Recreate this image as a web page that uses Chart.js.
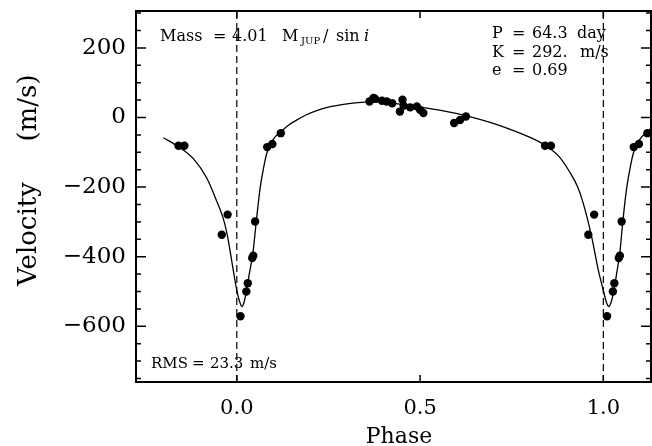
<!DOCTYPE html>
<html>
<head>
<meta charset="utf-8">
<script src="https://cdn.jsdelivr.net/npm/chart.js@4/dist/chart.umd.min.js"></script>
<style>
  html, body { margin: 0; padding: 0; background: #fff; }
  canvas { display: block; }
</style>
</head>
<body>
<canvas id="chart" width="652" height="446"></canvas>
<script>
'use strict';

// observed velocities, folded on phase 0..1
const obsPhase = [0.010, 0.026, 0.030, 0.042, 0.045, 0.050, 0.083, 0.097, 0.120,
    0.362, 0.373, 0.377, 0.396, 0.409, 0.424, 0.445, 0.452, 0.455, 0.473, 0.491, 0.500, 0.509,
    0.593, 0.609, 0.625, 0.841, 0.857, 0.959, 0.975];
const obsVel = [-571, -500, -476, -404, -397, -299, -85, -76, -45,
    46, 56, 54, 48, 46, 41, 17, 51, 34, 29, 32, 22, 13,
    -16, -7, 3, -81, -81, -337, -279];

// fitted orbit
const curvePhase = [-0.200, -0.159, -0.118, -0.082, -0.055, -0.037, -0.026, -0.011, 0.000, 0.008,
    0.014, 0.020, 0.027, 0.034, 0.044, 0.053, 0.064, 0.073, 0.082, 0.100, 0.120, 0.141, 0.164,
    0.190, 0.218, 0.250, 0.291, 0.330, 0.364, 0.420, 0.500, 0.560, 0.627, 0.691, 0.746, 0.800,
    0.846, 0.880, 0.909, 0.930, 0.945, 0.968, 0.986, 1.000, 1.008, 1.015, 1.022, 1.029, 1.036,
    1.045, 1.053, 1.064, 1.073, 1.082, 1.100, 1.120, 1.135];
const curveVel = [-58, -84, -119, -174, -240, -290, -337, -430, -497, -530,
    -543, -530, -495, -450, -389, -300, -200, -145, -102, -62, -41, -22, -7,
    8, 20, 30, 38, 43, 45, 41, 30, 20, 5, -14, -34, -57,
    -83, -113, -158, -200, -246, -342, -437, -497, -530, -543, -528, -495, -450,
    -389, -300, -200, -145, -102, -62, -41, -26];

const xRange = [-0.275, 1.13];
const yRange = [-760, 306];
const xTickStep = 0.5;
const yTickStep = 50;
const yMajorStep = 200;
const markerPhases = [0, 1];

const SERIF = '"DejaVu Serif", "Liberation Serif", serif';

// repeat the folded data one cycle either side, keep what falls in range
const obsPoints = [];
[-1, 0, 1].forEach(shift => {
    obsPhase.forEach((p, i) => {
        const x = p + shift;
        if (x >= xRange[0] && x <= xRange[1]) obsPoints.push({ x: x, y: obsVel[i] });
    });
});
const curvePoints = curvePhase.map((p, i) => ({ x: p, y: curveVel[i] }));

const markerSets = markerPhases.map(p => ({
    data: [{ x: p, y: yRange[0] }, { x: p, y: yRange[1] }],
    showLine: true,
    borderColor: '#000',
    borderWidth: 1.2,
    borderDash: [7, 4],
    pointRadius: 0
}));

function drawTokens(ctx, tokens, y, font) {
    tokens.forEach(t => {
        ctx.font = t[2] || font;
        ctx.fillText(t[0], t[1], t[3] || y);
    });
}

const framePlugin = {
    id: 'frame',
    afterDraw(chart) {
        const ctx = chart.ctx;
        const a = chart.chartArea;
        const xs = chart.scales.x, ys = chart.scales.y;
        ctx.save();
        ctx.strokeStyle = '#000';
        ctx.fillStyle = '#000';
        ctx.lineWidth = 2;
        ctx.strokeRect(a.left, a.top, a.right - a.left, a.bottom - a.top);

        // inward ticks
        ctx.lineWidth = 1.5;
        ctx.beginPath();
        ys.ticks.forEach(t => {
            const py = ys.getPixelForValue(t.value);
            const len = t.value % yMajorStep === 0 ? 10 : 5;
            ctx.moveTo(a.left, py); ctx.lineTo(a.left + len, py);
            ctx.moveTo(a.right, py); ctx.lineTo(a.right - len, py);
        });
        xs.ticks.forEach(t => {
            const px = xs.getPixelForValue(t.value);
            ctx.moveTo(px, a.bottom); ctx.lineTo(px, a.bottom - 7);
            ctx.moveTo(px, a.top); ctx.lineTo(px, a.top + 7);
        });
        ctx.stroke();

        // axis titles
        ctx.textBaseline = 'alphabetic';
        ctx.textAlign = 'center';
        ctx.font = '22px ' + SERIF;
        ctx.fillText('Phase', 399, 443);
        ctx.save();
        ctx.translate(36, 0);
        ctx.rotate(-Math.PI / 2);
        ctx.font = '26px ' + SERIF;
        ctx.fillText('Velocity', -234, 0);
        ctx.fillText('(m/s)', -108, 0);
        ctx.restore();

        // annotations
        ctx.textAlign = 'left';
        const f16 = '16px ' + SERIF;
        drawTokens(ctx, [
            ['Mass', 160], ['=', 213], ['4.01', 232], ['M', 282],
            ['JUP', 301, '10px ' + SERIF, 44],
            ['/', 323], ['sin', 336], ['i', 364, 'italic 16px ' + SERIF]
        ], 41, f16);
        drawTokens(ctx, [['P', 492], ['=', 512], ['64.3', 532], ['day', 577]], 37.5, f16);
        drawTokens(ctx, [['K', 492], ['=', 512], ['292.', 532], ['m/s', 580]], 56.5, f16);
        drawTokens(ctx, [['e', 492], ['=', 512], ['0.69', 532]], 75, f16);
        drawTokens(ctx, [['RMS', 151], ['=', 192], ['23.3', 210], ['m/s', 250]], 368, '15px ' + SERIF);
        ctx.restore();
    }
};

new Chart(document.getElementById('chart').getContext('2d'), {
    type: 'scatter',
    data: {
        datasets: [
            {
                data: curvePoints,
                showLine: true,
                borderColor: '#000',
                borderWidth: 1.3,
                cubicInterpolationMode: 'monotone',
                pointRadius: 0
            },
            ...markerSets,
            {
                data: obsPoints,
                backgroundColor: '#000',
                borderWidth: 0,
                pointRadius: 4.2
            }
        ]
    },
    options: {
        responsive: false,
        animation: false,
        devicePixelRatio: 1,
        layout: { autoPadding: false, padding: { top: 11, right: 1, left: 0, bottom: 0 } },
        plugins: { legend: { display: false }, tooltip: { enabled: false } },
        scales: {
            x: {
                type: 'linear',
                min: xRange[0],
                max: xRange[1],
                grid: { display: false, drawTicks: false },
                border: { display: false },
                afterFit(scale) {
                    scale.height = 64;
                    scale.paddingLeft = 0;
                    scale.paddingRight = 0;
                },
                ticks: {
                    stepSize: xTickStep,
                    includeBounds: false,
                    autoSkip: false,
                    maxRotation: 0,
                    padding: 14,
                    color: '#000',
                    font: { family: SERIF, size: 21 },
                    callback: v => v.toFixed(1)
                }
            },
            y: {
                type: 'linear',
                min: yRange[0],
                max: yRange[1],
                grid: { display: false, drawTicks: false },
                border: { display: false },
                afterFit(scale) {
                    scale.width = 136;
                    scale.paddingTop = 0;
                    scale.paddingBottom = 0;
                },
                ticks: {
                    stepSize: yTickStep,
                    includeBounds: false,
                    autoSkip: false,
                    padding: 10,
                    color: '#000',
                    font: { family: SERIF, size: 23 },
                    callback: v => v % yMajorStep === 0 ? (v < 0 ? '\u2212' + Math.abs(v) : String(v)) : ''
                }
            }
        }
    },
    plugins: [framePlugin]
});
</script>
</body>
</html>
